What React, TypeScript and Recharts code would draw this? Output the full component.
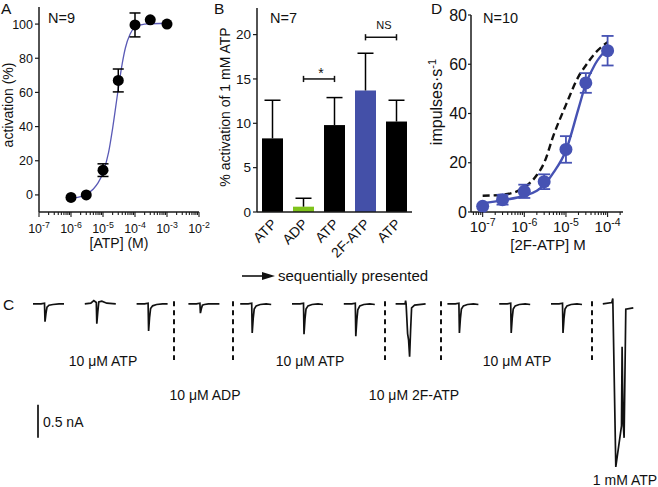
import React from "react";
import {
  ComposedChart,
  LineChart,
  Line,
  Scatter,
  Bar,
  XAxis,
  YAxis,
  ErrorBar,
  ReferenceLine,
} from "recharts";

// ------------------------------------------------------------------
// P2X figure: A ATP dose-response, B sequential agonists,
// C current traces, D 2F-ATP nerve response
// ------------------------------------------------------------------

// A — activation (%) vs [ATP]
const atpConc = [1e-6, 3e-6, 1e-5, 3e-5, 1e-4, 3e-4, 1e-3];
const atpActivation = [-1.5, 0, 14.5, 67, 99.5, 102.5, 100];
const atpSem = [0, 0, 3.7, 6.7, 7, 0, 0];
const atpFitConc = [1e-6, 2e-6, 3e-6, 5e-6, 7e-6, 1e-5, 1.5e-5, 2e-5, 3e-5, 4e-5, 5e-5, 7e-5, 1e-4, 2e-4, 1e-3];
const atpFitActivation = [-2, -1, 0.5, 3.5, 7, 13, 25, 39, 62, 77, 86, 94, 98, 100, 100.5];

// B — % activation of 1 mM ATP, presented in order
const seqLabels = ["ATP", "ADP", "ATP", "2F-ATP", "ATP"];
const seqMeans = [8.3, 0.6, 9.8, 13.7, 10.2];
const seqSemUp = [4.3, 0.95, 3.1, 4.2, 2.4];
const seqColors = ["#000000", "#7fc31c", "#000000", "#4450a8", "#000000"];
const sigBrackets = [
  { from: 1, to: 2, y: 15, text: "*" },
  { from: 3, to: 4, y: 19.7, text: "NS" },
];

// C — whole-cell currents (nA), one sweep per application
const SWEEP_SPACING = 51.8;
const std = [0, 8, 11.5, 12, 13, 14, 16, 20, 26, 31];
const traceTimes = [
  std,
  [0, 6, 9, 11.5, 12, 13, 14, 17, 22, 31],
  std,
  std,
  std,
  std,
  std,
  [0, 9.5, 10, 10.5, 12, 13, 14, 15, 16, 19, 30],
  std,
  std,
  std,
  [0, 9, 10, 13, 18.7, 19.3, 20.3, 21.3, 23, 30.5],
];
const traceCurrents = [
  [0, 0, 0.01, -0.27, -0.14, -0.05, -0.02, -0.01, 0, 0],
  [0, 0.01, 0.05, 0.02, -0.3, -0.12, 0.03, 0.04, 0.01, 0],
  [0, 0, 0.01, -0.41, -0.2, -0.07, -0.03, -0.01, 0, 0],
  [0, 0, 0.01, -0.14, -0.07, -0.02, -0.01, 0, 0, 0],
  [0, 0, 0.01, -0.44, -0.22, -0.08, -0.03, -0.01, 0, -0.01],
  [0, 0, 0.01, -0.46, -0.23, -0.08, -0.03, -0.01, 0, -0.01],
  [0, 0, 0.01, -0.49, -0.25, -0.09, -0.03, -0.01, 0, -0.01],
  [0, 0, 0.05, 0, -0.45, -0.55, -0.8, -0.4, -0.06, -0.02, 0],
  [0, 0, 0.01, -0.44, -0.22, -0.08, -0.03, -0.01, 0, -0.01],
  [0, 0, 0.01, -0.44, -0.22, -0.08, -0.03, -0.01, 0, -0.01],
  [0, 0, 0.01, -0.44, -0.22, -0.08, -0.03, -0.01, 0, -0.01],
  [0, 0.02, 0.08, -2.47, -1.85, -0.65, -1.79, -2.03, -0.08, -0.06],
];
const sweepBreaks = [141, 200, 352, 408, 559];

// D — impulses/s vs [2F-ATP]
const fConc = [1e-7, 3e-7, 1e-6, 3e-6, 1e-5, 3e-5, 1e-4];
const fRate = [2.3, 5, 8.4, 12.3, 25.4, 52.4, 65.5];
const fSem = [0, 2, 2.7, 3, 5.4, 4, 6];
const fFitConc = [1e-7, 3e-7, 1e-6, 2e-6, 3e-6, 5e-6, 1e-5, 2e-5, 3e-5, 5e-5, 1e-4];
const fFitRate = [3.5, 4.8, 6.6, 8.6, 11, 16, 25, 42, 52, 60, 66.5];
const atpRefConc = [1e-7, 3e-7, 1e-6, 2e-6, 3e-6, 5e-6, 1e-5, 2e-5, 3e-5, 5e-5, 1e-4];
const atpRefRate = [6.6, 7, 10, 15, 20, 31, 43.5, 55, 59.5, 64.5, 69];

// ── derived series ────────────────────────────────────────────────
const zip = (xs: number[], ys: number[], es?: number[]) =>
  xs.map((x, i) => ({ x, y: ys[i], err: es ? es[i] : 0 }));

const atpPoints = zip(atpConc, atpActivation, atpSem);
const atpFit = zip(atpFitConc, atpFitActivation);
const fPoints = zip(fConc, fRate, fSem);
const fFit = zip(fFitConc, fFitRate);
const atpRef = zip(atpRefConc, atpRefRate);

const seqData = seqLabels.map((name, i) => ({
  id: `${name}-${i}`,
  name,
  mean: seqMeans[i],
  sem: seqSemUp[i],
  color: seqColors[i],
}));

const sweeps = traceCurrents.map((vals, k) =>
  vals.map((v, j) => ({ x: k * SWEEP_SPACING + traceTimes[k][j], i: v }))
);

const logTicks = (from: number, to: number, min: number, max: number) => {
  const t: number[] = [];
  for (let e = from; e < to; e++)
    for (let m = 1; m < 10; m++) t.push(m * Math.pow(10, e));
  t.push(Math.pow(10, to));
  return t.filter((v) => v >= min * 0.999 && v <= max * 1.001);
};

const A_DOMAIN: [number, number] = [1e-7, 1e-2];
const D_DOMAIN: [number, number] = [Math.pow(10, -7.28), Math.pow(10, -3.63)];
const aTicks = logTicks(-7, -2, A_DOMAIN[0], A_DOMAIN[1]);
const dTicks = logTicks(-8, -3, D_DOMAIN[0], D_DOMAIN[1]);

const INK = "#1a1a1a";
const axisLine = { stroke: INK, strokeWidth: 1.5 };
const tickLine = { stroke: INK, strokeWidth: 1.2 };

// ── ticks & shapes ────────────────────────────────────────────────
function LogTick({ x, y, payload, fs, off }: any) {
  const exp = Math.log10(payload.value);
  const major = Math.abs(exp - Math.round(exp)) < 1e-6;
  return (
    <g>
      <line x1={x} x2={x} y1={y} y2={y + (major ? 5 : 3)} stroke={INK} strokeWidth={1.1} />
      {major && (
        <text x={x} y={y + off} textAnchor="middle" fontSize={fs} fill="#111">
          10
          <tspan dy={-fs * 0.42} fontSize={fs * 0.7}>
            {Math.round(exp)}
          </tspan>
        </text>
      )}
    </g>
  );
}

// bar + one-sided SEM whisker, whisker length taken from the bar's own px/unit
function BarWithSem({ x, y, width, height, payload }: any) {
  const perUnit = height / payload.mean;
  const top = y - payload.sem * perUnit;
  const cx = x + width / 2;
  const lx = cx + 5;
  const ly = y + height + 13;
  return (
    <g>
      <rect x={x} y={y} width={width} height={height} fill={payload.color} />
      <line x1={cx} x2={cx} y1={y} y2={top} stroke="#000" strokeWidth={1.5} />
      <line x1={cx - 8} x2={cx + 8} y1={top} y2={top} stroke="#000" strokeWidth={1.5} />
      {/* slanted category label under the bar */}
      <text
        x={lx}
        y={ly}
        transform={`rotate(-45, ${lx}, ${ly})`}
        textAnchor="end"
        fontSize={14}
        fill="#111"
      >
        {payload.name}
      </text>
    </g>
  );
}

// ── panels ────────────────────────────────────────────────────────
function PanelA() {
  return (
    <ComposedChart width={220} height={250} margin={{ top: 7, right: 21, left: 0, bottom: 0 }}>
      <XAxis
        dataKey="x"
        type="number"
        scale="log"
        domain={A_DOMAIN}
        allowDataOverflow
        ticks={aTicks}
        interval={0}
        height={38}
        axisLine={axisLine}
        tickLine={false}
        tickSize={0}
        tickMargin={0}
        tick={(p: any) => <LogTick {...p} fs={12.5} off={21} />}
      />
      <YAxis
        dataKey="y"
        width={39}
        domain={[-10, 110]}
        ticks={[0, 20, 40, 60, 80, 100]}
        axisLine={axisLine}
        tickLine={tickLine}
        tickSize={4}
        tickMargin={2}
        tick={{ fill: "#111", fontSize: 12.5 }}
      />
      <Line data={atpFit} dataKey="y" type="monotone" stroke="#5a5ab6" strokeWidth={1.3} dot={false} isAnimationActive={false} />
      <Scatter
        data={atpPoints}
        isAnimationActive={false}
        shape={(p: any) => <circle cx={p.cx} cy={p.cy} r={5.5} fill="#000" />}
      >
        <ErrorBar dataKey="err" direction="y" width={5.5} stroke="#000" strokeWidth={1.5} />
      </Scatter>
    </ComposedChart>
  );
}

function PanelB() {
  return (
    <ComposedChart width={230} height={300} data={seqData} margin={{ top: 8, right: 8, left: 0, bottom: 0 }}>
      <XAxis
        dataKey="id"
        type="category"
        height={88}
        interval={0}
        axisLine={axisLine}
        tickLine={tickLine}
        tickSize={4}
        tick={false}
      />
      <YAxis
        width={67}
        domain={[0, 23]}
        ticks={[0, 5, 10, 15, 20]}
        axisLine={axisLine}
        tickLine={tickLine}
        tickSize={4}
        tickMargin={2}
        tick={{ fill: "#111", fontSize: 13.5 }}
      />
      <Bar dataKey="mean" barSize={21} isAnimationActive={false} shape={(p: any) => <BarWithSem {...p} />} />
      {sigBrackets.map((b) => {
        const a = seqData[b.from].id;
        const c = seqData[b.to].id;
        return [
          <ReferenceLine key={`h${a}`} segment={[{ x: a, y: b.y }, { x: c, y: b.y }]} stroke="#111" strokeWidth={1.5} />,
          <ReferenceLine key={`l${a}`} segment={[{ x: a, y: b.y - 0.35 }, { x: a, y: b.y + 0.35 }]} stroke="#111" strokeWidth={1.5} />,
          <ReferenceLine key={`r${a}`} segment={[{ x: c, y: b.y - 0.35 }, { x: c, y: b.y + 0.35 }]} stroke="#111" strokeWidth={1.5} />,
        ];
      })}
    </ComposedChart>
  );
}

function PanelC() {
  return (
    <LineChart width={658} height={197} margin={{ top: 0, right: 0, left: 0, bottom: 0 }}>
      <XAxis dataKey="x" type="number" domain={[-33, 625]} allowDataOverflow hide />
      <YAxis type="number" domain={[-2.775, 0.21]} allowDataOverflow hide />
      {sweepBreaks.map((t) => (
        <ReferenceLine
          key={t}
          segment={[{ x: t, y: 0.04 }, { x: t, y: -0.85 }]}
          stroke="#111"
          strokeWidth={2}
          strokeDasharray="5 4"
        />
      ))}
      <ReferenceLine segment={[{ x: 5, y: -1.53 }, { x: 5, y: -2.03 }]} stroke="#000" strokeWidth={1.6} />
      {sweeps.map((d, k) => (
        <Line
          key={k}
          data={d}
          dataKey="i"
          type="linear"
          stroke="#111"
          strokeWidth={1.7}
          dot={false}
          isAnimationActive={false}
        />
      ))}
    </LineChart>
  );
}

function PanelD() {
  return (
    <ComposedChart width={238} height={250} margin={{ top: 15, right: 35, left: 0, bottom: 0 }}>
      <XAxis
        dataKey="x"
        type="number"
        scale="log"
        domain={D_DOMAIN}
        allowDataOverflow
        ticks={dTicks}
        interval={0}
        height={38}
        axisLine={axisLine}
        tickLine={false}
        tickSize={0}
        tickMargin={0}
        tick={(p: any) => <LogTick {...p} fs={15} off={20} />}
      />
      <YAxis
        dataKey="y"
        width={51}
        domain={[0, 80]}
        ticks={[0, 20, 40, 60, 80]}
        axisLine={axisLine}
        tickLine={tickLine}
        tickSize={3}
        tickMargin={1}
        tick={{ fill: "#111", fontSize: 16 }}
      />
      <Line data={atpRef} dataKey="y" type="monotone" stroke="#111" strokeWidth={2.4} strokeDasharray="7 4" dot={false} isAnimationActive={false} />
      <Line data={fFit} dataKey="y" type="monotone" stroke="#4652b3" strokeWidth={2.4} dot={false} isAnimationActive={false} />
      <Scatter
        data={fPoints}
        isAnimationActive={false}
        shape={(p: any) => <circle cx={p.cx} cy={p.cy} r={6.5} fill="#4652b3" />}
      >
        <ErrorBar dataKey="err" direction="y" width={6} stroke="#4652b3" strokeWidth={1.8} />
      </Scatter>
    </ComposedChart>
  );
}

export default function App() {
  return (
    <div style={wrapStyle}>
      <div style={{ position: "absolute", left: 0, top: 0 }}><PanelA /></div>
      <div style={{ position: "absolute", left: 190, top: 0 }}><PanelB /></div>
      <div style={{ position: "absolute", left: 420, top: 0 }}><PanelD /></div>
      <div style={{ position: "absolute", left: 0, top: 290 }}><PanelC /></div>

      <svg width={658} height={487} style={{ position: "absolute", left: 0, top: 0, pointerEvents: "none" }}>
        <g fill="#111">
          {/* panel letters */}
          <text x={1} y={14} fontSize={15.5}>A</text>
          <text x={214} y={14} fontSize={15.5}>B</text>
          <text x={3} y={310} fontSize={15.5}>C</text>
          <text x={431} y={14} fontSize={15.5}>D</text>

          <text x={48} y={23} fontSize={14.5}>N=9</text>
          <text x={270} y={23} fontSize={14.5}>N=7</text>
          <text x={483} y={23} fontSize={14.5}>N=10</text>

          {/* axis titles */}
          <text x={12.5} y={105} fontSize={14} textAnchor="middle" transform="rotate(-90 12.5 105)">activation (%)</text>
          <text x={119} y={248} fontSize={14} textAnchor="middle">[ATP] (M)</text>
          <text x={230} y={107} fontSize={14} textAnchor="middle" transform="rotate(-90 230 107)">% activation of 1 mM ATP</text>
          <text x={442} y={102} fontSize={16} textAnchor="middle" transform="rotate(-90 442 102)">
            impulses·s<tspan dy={-6} fontSize={11}>-1</tspan>
          </text>
          <text x={548} y={250} fontSize={15} textAnchor="middle">[2F-ATP] M</text>

          {/* significance marks */}
          <text x={321} y={78} fontSize={14} textAnchor="middle">*</text>
          <text x={384} y={29} fontSize={11} textAnchor="middle">NS</text>

          {/* order of presentation */}
          <line x1={242} x2={264} y1={276} y2={276} stroke="#111" strokeWidth={1.6} />
          <polygon points="262,272 275,276 262,280" />
          <text x={278} y={281} fontSize={15}>sequentially presented</text>

          {/* trace annotations */}
          <text x={103} y={366} fontSize={14} textAnchor="middle">10 μM ATP</text>
          <text x={310} y={366} fontSize={14} textAnchor="middle">10 μM ATP</text>
          <text x={517} y={366} fontSize={14} textAnchor="middle">10 μM ATP</text>
          <text x={205} y={400} fontSize={14} textAnchor="middle">10 μM ADP</text>
          <text x={414} y={400} fontSize={14} textAnchor="middle">10 μM 2F-ATP</text>
          <text x={625} y={485} fontSize={14} textAnchor="middle">1 mM ATP</text>
          <text x={43} y={427} fontSize={14}>0.5 nA</text>
        </g>
      </svg>
    </div>
  );
}

const wrapStyle: React.CSSProperties = {
  position: "absolute",
  left: 0,
  top: 0,
  width: 658,
  height: 487,
  overflow: "hidden",
  background: "#fff",
  fontFamily: '"Liberation Sans", Arial, sans-serif',
};
